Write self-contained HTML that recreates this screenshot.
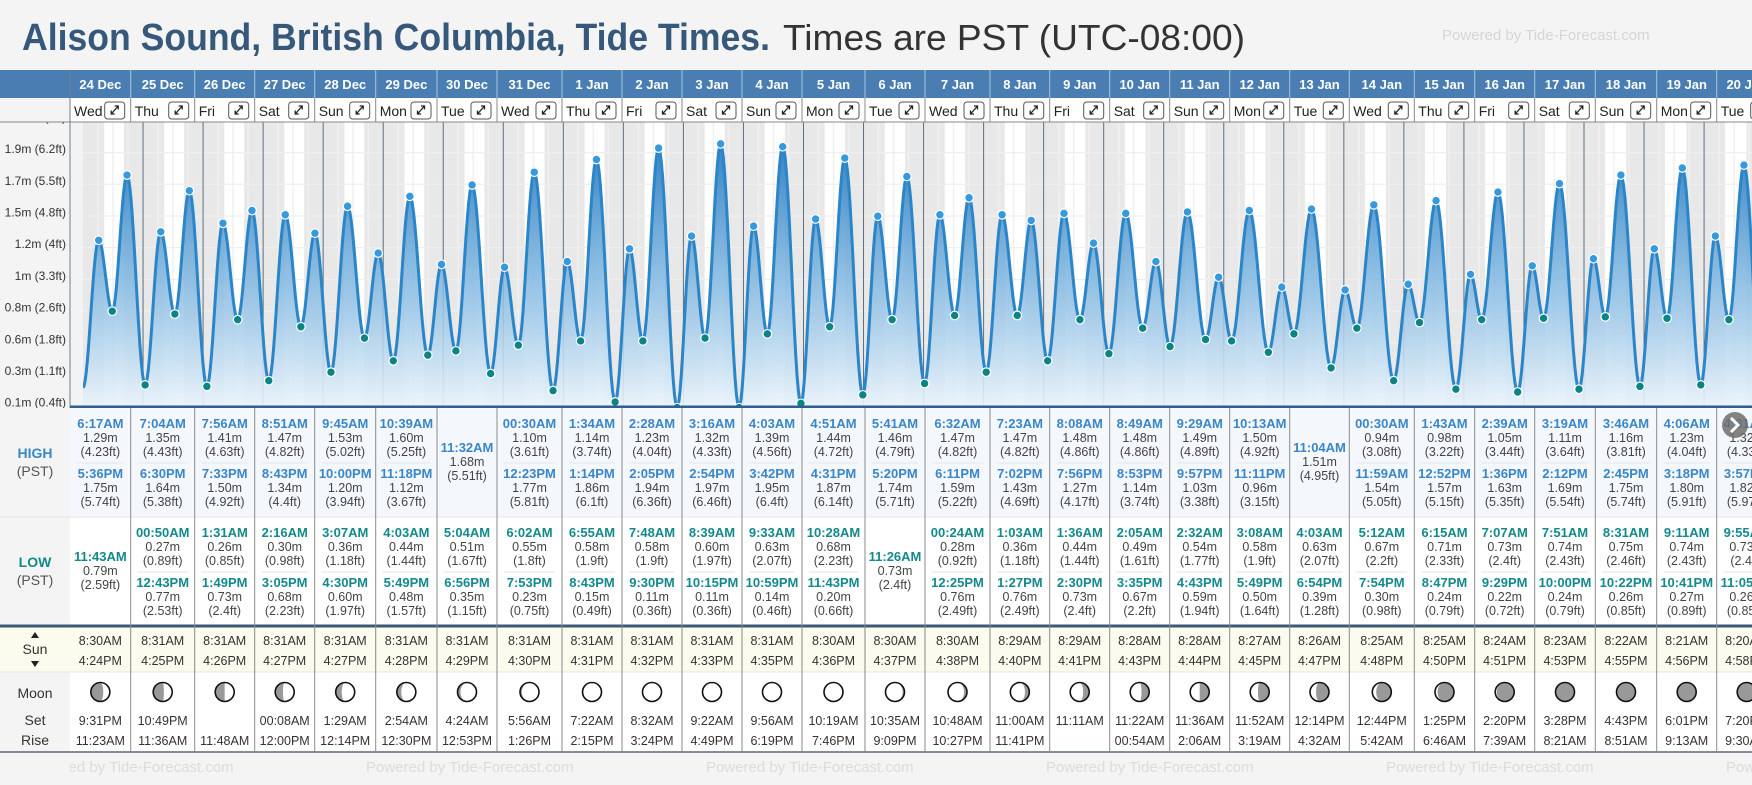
<!DOCTYPE html>
<html><head><meta charset="utf-8">
<style>
html,body{margin:0;padding:0;background:#f4f4f4;}
body{width:1752px;height:780px;overflow:hidden;font-family:"Liberation Sans",Arial,sans-serif;}
svg text{font-family:"Liberation Sans",Arial,sans-serif;}
</style></head>
<body>
<svg id="root" width="1752" height="780" viewBox="0 0 1752 780" xmlns="http://www.w3.org/2000/svg">
<defs>
<linearGradient id="fillGrad" gradientUnits="userSpaceOnUse" x1="0" y1="150" x2="0" y2="407">
<stop offset="0" stop-color="#2e7fc2" stop-opacity="0.95"/>
<stop offset="0.5" stop-color="#7fb6e0" stop-opacity="0.85"/>
<stop offset="1" stop-color="#eaf4fc" stop-opacity="0.9"/>
</linearGradient>
<clipPath id="chartClip"><rect x="83" y="122" width="1669" height="285"/></clipPath>
<clipPath id="axisClip"><rect x="0" y="122" width="70" height="286"/></clipPath>
</defs>
<text x="22" y="50" font-size="38" font-weight="bold" fill="#36597b" textLength="748" lengthAdjust="spacingAndGlyphs">Alison Sound, British Columbia, Tide Times.</text>
<text x="783" y="50" font-size="36" fill="#333" textLength="462" lengthAdjust="spacingAndGlyphs">Times are PST (UTC-08:00)</text>
<text x="1442" y="40" font-size="15" fill="#d6d6d6">Powered by Tide-Forecast.com</text>
<g id="chart"></g>
</svg>
<script>
// ---- data ----
const dayLabels=['24 Dec','25 Dec','26 Dec','27 Dec','28 Dec','29 Dec','30 Dec','31 Dec','1 Jan','2 Jan','3 Jan','4 Jan','5 Jan','6 Jan','7 Jan','8 Jan','9 Jan','10 Jan','11 Jan','12 Jan','13 Jan','14 Jan','15 Jan','16 Jan','17 Jan','18 Jan','19 Jan','20 Jan'];
const weekdays=['Wed','Thu','Fri','Sat','Sun','Mon','Tue','Wed','Thu','Fri','Sat','Sun','Mon','Tue','Wed','Thu','Fri','Sat','Sun','Mon','Tue','Wed','Thu','Fri','Sat','Sun','Mon','Tue'];
const tideDay=[-1,0,0,0,1,1,1,1,2,2,2,2,3,3,3,3,4,4,4,4,5,5,5,5,6,6,6,7,7,7,7,8,8,8,8,9,9,9,9,10,10,10,10,11,11,11,11,12,12,12,12,13,13,13,14,14,14,14,15,15,15,15,16,16,16,16,17,17,17,17,18,18,18,18,19,19,19,19,20,20,20,21,21,21,21,22,22,22,22,23,23,23,23,24,24,24,24,25,25,25,25,26,26,26,26,27,27,27,27];
const tideTime=['11:58PM','6:17AM','11:43AM','5:36PM','00:50AM','7:04AM','12:43PM','6:30PM','1:31AM','7:56AM','1:49PM','7:33PM','2:16AM','8:51AM','3:05PM','8:43PM','3:07AM','9:45AM','4:30PM','10:00PM','4:03AM','10:39AM','5:49PM','11:18PM','5:04AM','11:32AM','6:56PM','00:30AM','6:02AM','12:23PM','7:53PM','1:34AM','6:55AM','1:14PM','8:43PM','2:28AM','7:48AM','2:05PM','9:30PM','3:16AM','8:39AM','2:54PM','10:15PM','4:03AM','9:33AM','3:42PM','10:59PM','4:51AM','10:28AM','4:31PM','11:43PM','5:41AM','11:26AM','5:20PM','00:24AM','6:32AM','12:25PM','6:11PM','1:03AM','7:23AM','1:27PM','7:02PM','1:36AM','8:08AM','2:30PM','7:56PM','2:05AM','8:49AM','3:35PM','8:53PM','2:32AM','9:29AM','4:43PM','9:57PM','3:08AM','10:13AM','5:49PM','11:11PM','4:03AM','11:04AM','6:54PM','00:30AM','5:12AM','11:59AM','7:54PM','1:43AM','6:15AM','12:52PM','8:47PM','2:39AM','7:07AM','1:36PM','9:29PM','3:19AM','7:51AM','2:12PM','10:00PM','3:46AM','8:31AM','2:45PM','10:22PM','4:06AM','9:11AM','3:18PM','10:41PM','4:31AM','9:55AM','3:57PM','11:05PM'];
const tideHeight=[0.25,1.29,0.79,1.75,0.27,1.35,0.77,1.64,0.26,1.41,0.73,1.50,0.30,1.47,0.68,1.34,0.36,1.53,0.60,1.20,0.44,1.60,0.48,1.12,0.51,1.68,0.35,1.10,0.55,1.77,0.23,1.14,0.58,1.86,0.15,1.23,0.58,1.94,0.11,1.32,0.60,1.97,0.11,1.39,0.63,1.95,0.14,1.44,0.68,1.87,0.20,1.46,0.73,1.74,0.28,1.47,0.76,1.59,0.36,1.47,0.76,1.43,0.44,1.48,0.73,1.27,0.49,1.48,0.67,1.14,0.54,1.49,0.59,1.03,0.58,1.50,0.50,0.96,0.63,1.51,0.39,0.94,0.67,1.54,0.30,0.98,0.71,1.57,0.24,1.05,0.73,1.63,0.22,1.11,0.74,1.69,0.24,1.16,0.75,1.75,0.26,1.23,0.74,1.80,0.27,1.32,0.73,1.82,0.26];
const tideType=['L','H','L','H','L','H','L','H','L','H','L','H','L','H','L','H','L','H','L','H','L','H','L','H','L','H','L','H','L','H','L','H','L','H','L','H','L','H','L','H','L','H','L','H','L','H','L','H','L','H','L','H','L','H','L','H','L','H','L','H','L','H','L','H','L','H','L','H','L','H','L','H','L','H','L','H','L','H','L','H','L','H','L','H','L','H','L','H','L','H','L','H','L','H','L','H','L','H','L','H','L','H','L','H','L','H','L','H','L'];
const sunrise=['8:30AM','8:31AM','8:31AM','8:31AM','8:31AM','8:31AM','8:31AM','8:31AM','8:31AM','8:31AM','8:31AM','8:31AM','8:30AM','8:30AM','8:30AM','8:29AM','8:29AM','8:28AM','8:28AM','8:27AM','8:26AM','8:25AM','8:25AM','8:24AM','8:23AM','8:22AM','8:21AM','8:20AM'];
const sunset=['4:24PM','4:25PM','4:26PM','4:27PM','4:27PM','4:28PM','4:29PM','4:30PM','4:31PM','4:32PM','4:33PM','4:35PM','4:36PM','4:37PM','4:38PM','4:40PM','4:41PM','4:43PM','4:44PM','4:45PM','4:47PM','4:48PM','4:50PM','4:51PM','4:53PM','4:55PM','4:56PM','4:58PM'];
const moonSet=['9:31PM','10:49PM','','00:08AM','1:29AM','2:54AM','4:24AM','5:56AM','7:22AM','8:32AM','9:22AM','9:56AM','10:19AM','10:35AM','10:48AM','11:00AM','11:11AM','11:22AM','11:36AM','11:52AM','12:14PM','12:44PM','1:25PM','2:20PM','3:28PM','4:43PM','6:01PM','7:20PM'];
const moonRise=['11:23AM','11:36AM','11:48AM','12:00PM','12:14PM','12:30PM','12:53PM','1:26PM','2:15PM','3:24PM','4:49PM','6:19PM','7:46PM','9:09PM','10:27PM','11:41PM','','00:54AM','2:06AM','3:19AM','4:32AM','5:42AM','6:46AM','7:39AM','8:21AM','8:51AM','9:13AM','9:30AM'];
const moonPhase=[0.20,0.23,0.25,0.28,0.31,0.34,0.37,0.40,0.43,0.47,0.50,0.53,0.57,0.60,0.63,0.66,0.69,0.72,0.75,0.78,0.81,0.85,0.88,0.91,0.95,0.99,0.03,0.06];
const yTickValues=[0.12,0.344,0.567,0.79,1.014,1.238,1.461,1.685,1.908,2.13];
const yTickLabels=['0.1m (0.4ft)','0.3m (1.1ft)','0.6m (1.8ft)','0.8m (2.6ft)','1m (3.3ft)','1.2m (4ft)','1.5m (4.8ft)','1.7m (5.5ft)','1.9m (6.2ft)','2.1m (7ft)'];

// ---- layout (not data) ----
const colW=[60.7,64,60,60,61,61.3,60,65,60,60,60,60,63,60,65,59.7,60,60,60,60,59.6,65,60.4,60,60.6,61.4,60,60];
const colX=[];let acc=70;for(const w of colW){colX.push(acc);acc+=w;}
const CH_X0=83, CH_DAY=60.04, CH_TOP=122, CH_BOT=407;
function xScale(day,hours){return CH_X0+CH_DAY*(day+hours/24);}
function yScale(m){return 423.2-141.8*m;}
function parseT(s){const m=s.match(/(\d+):(\d+)(AM|PM)/);let h=parseInt(m[1],10)%12;if(m[3]==='PM')h+=12;return h+parseInt(m[2],10)/60;}
const NS='http://www.w3.org/2000/svg';
const G=document.getElementById('chart');
function mk(tag,attrs,parent,txt){const e=document.createElementNS(NS,tag);for(const k in attrs)e.setAttribute(k,attrs[k]);if(txt!==undefined)e.textContent=txt;(parent||G).appendChild(e);return e;}
function fmtFt(m){return String(parseFloat((m*3.28084).toFixed(2)));}
function fmtM(m){return m.toFixed(2)+'m';}

// header band
let el=mk('rect',{x:0,y:70,width:1752,height:28,fill:'#4a7eb2'});


el=mk('rect',{x:0,y:98,width:70,height:24,fill:'#f4f4f4'});


el=mk('rect',{x:70,y:98,width:1682,height:24,fill:'#fff'});



// chart background bands
el=mk('rect',{x:70,y:CH_TOP,width:1682,height:CH_BOT-CH_TOP,fill:'#f3f3f3'});


for(let d=0;d<28;d++){
  const x0=xScale(d,0),xr=xScale(d,parseT(sunrise[d])),xs=xScale(d,parseT(sunset[d])),x1=xScale(d+1,0);
  el=mk('rect',{x:x0,y:CH_TOP,width:xr-x0,height:CH_BOT-CH_TOP,fill:'#e8e8e8'});
  
  
  el=mk('rect',{x:xr,y:CH_TOP,width:xs-xr,height:CH_BOT-CH_TOP,fill:'#ffffff'});
  
  
  el=mk('rect',{x:xs,y:CH_TOP,width:x1-xs,height:CH_BOT-CH_TOP,fill:'#e8e8e8'});
  
  
  for(const hh of [6,12,18]){
    el=mk('line',{x1:xScale(d,hh),x2:xScale(d,hh),y1:CH_TOP,y2:CH_BOT,stroke:'#f0f0f0','stroke-width':1.5});
    
    
  }
}
// horizontal gridlines
yTickValues.forEach(v=>{
  el=mk('line',{x1:70,x2:1752,y1:yScale(v),y2:yScale(v),stroke:'#efefef','stroke-width':1.2,'clip-path':'url(#chartClip)'});
  
  
});
// midnight lines
for(let d=1;d<28;d++){
  el=mk('line',{x1:xScale(d,0),x2:xScale(d,0),y1:CH_TOP,y2:CH_BOT,stroke:'#5d6f80','stroke-width':1});
  
  
}
// tide curve
const px=[],py=[];
for(let i=0;i<tideTime.length;i++){px.push(xScale(tideDay[i],parseT(tideTime[i])));py.push(yScale(tideHeight[i]));}
let d='M'+px[0]+','+py[0];
for(let i=0;i<px.length-1;i++){
  for(let s=1;s<=14;s++){const t=s/14;const f=(1-Math.cos(Math.PI*t))/2;d+=' L'+(px[i]+(px[i+1]-px[i])*t).toFixed(2)+','+(py[i]+(py[i+1]-py[i])*f).toFixed(2);}
}
el=mk('path',{d:d+' L'+px[px.length-1]+','+CH_BOT+' L'+px[0]+','+CH_BOT+' Z',fill:'url(#fillGrad)','clip-path':'url(#chartClip)'});


el=mk('path',{d:d,fill:'none',stroke:'#2b85c9','stroke-width':3,'stroke-linejoin':'round','clip-path':'url(#chartClip)'});


for(let i=0;i<px.length;i++){
  if(tideDay[i]<0)continue;
  el=mk('circle',{cx:px[i],cy:py[i],r:4.3,fill:tideType[i]==='H'?'#3499de':'#0b8486',stroke:'#fff','stroke-width':1.2,'clip-path':'url(#chartClip)'});
  
  
}
// y axis
el=mk('rect',{x:0,y:CH_TOP,width:70,height:CH_BOT-CH_TOP+1,fill:'#f4f4f4'});


yTickValues.forEach((v,i)=>{
  el=mk('text',{x:66,y:yScale(v)+0.5,'font-size':12,fill:'#333','text-anchor':'end','clip-path':'url(#axisClip)'},G,yTickLabels[i]);
  
  
});
el=mk('line',{x1:70,x2:70,y1:70,y2:752,stroke:'#6f7f8e','stroke-width':1});



// header columns
for(let i=0;i<28;i++){
  const x=colX[i],w=colW[i];
  el=mk('text',{x:x+w/2,y:89,'font-size':13,'font-weight':'bold',fill:'#fff','text-anchor':'middle'},G,dayLabels[i]);
  
  
  el=mk('text',{x:x+4,y:116,'font-size':14,fill:'#222'},G,weekdays[i]);
  
  
  const bx=x+w-26;
  const g=mk('g',{});
  
  
  mk('rect',{x:bx,y:102,width:20,height:17,rx:3,fill:'#fff',stroke:'#555','stroke-width':1},g);
  mk('path',{d:`M${bx+6.5} ${114} L${bx+13.5} ${106} M${bx+10} ${106} L${bx+13.5} ${106} L${bx+13.5} ${109.5} M${bx+6.5} ${110.5} L${bx+6.5} ${114} L${bx+10} ${114}`,fill:'none',stroke:'#222','stroke-width':1.3},g);
  if(i>0){
    el=mk('line',{x1:x,x2:x,y1:70,y2:98,stroke:'#a9c4df','stroke-width':1});
    
    
    el=mk('line',{x1:x,x2:x,y1:98,y2:122,stroke:'#888','stroke-width':1});
    
    
  }
}
el=mk('line',{x1:0,x2:1752,y1:122,y2:122,stroke:'#888','stroke-width':1});


el=mk('line',{x1:70,x2:1752,y1:407,y2:407,stroke:'#2f5f8a','stroke-width':3});



// tables backgrounds
const bgs=[[408,109,'#f4f8fc','high-table-row'],[517,109,'#ffffff','low-table-row'],[627,45,'#fbfbee','sun-row'],[672,80,'#ffffff','moon-row']];
bgs.forEach(b=>{
  el=mk('rect',{x:70,y:b[0],width:1682,height:b[1],fill:b[2]});
  
  
});
el=mk('rect',{x:0,y:408,width:70,height:344,fill:'#f4f4f4'});


el=mk('rect',{x:0,y:627,width:70,height:45,fill:'#fbfbee'});


const lines=[[517,'#e6e6e6',1],[626,'#3d5a75',3],[672,'#e6e6e6',1],[752,'#5a6b7a',1.5]];
lines.forEach(l=>{
  el=mk('line',{x1:0,x2:1752,y1:l[0],y2:l[0],stroke:l[1],'stroke-width':l[2]});
  
  
});
// left labels
const lbls=[[458,'HIGH',14,'bold','#3a86c8'],[476,'(PST)',14,'normal','#555'],[567,'LOW',14,'bold','#14898c'],[585,'(PST)',14,'normal','#555'],[654,'Sun',14,'normal','#333'],[698,'Moon',14,'normal','#333'],[725,'Set',14,'normal','#333'],[745,'Rise',14,'normal','#333']];
lbls.forEach(l=>{
  el=mk('text',{x:35,y:l[0],'font-size':l[2],'font-weight':l[3],fill:l[4],'text-anchor':'middle'},G,l[1]);
  
  
});
el=mk('path',{d:'M35 632 L39 638 L31 638 Z M31 661 L39 661 L35 667 Z',fill:'#222'});



function cellText(x,y,size,weight,color,txt,name){
  const e=mk('text',{x:x,y:y,'font-size':size,'font-weight':weight,fill:color,'text-anchor':'middle'},G,txt);
  
  
}
for(let c=0;c<28;c++){
  const x=colX[c],w=colW[c],cx=x+w/2;
  const hi=[],lo=[];
  for(let i=0;i<tideTime.length;i++){if(tideDay[i]===c){(tideType[i]==='H'?hi:lo).push(i);}}
  [[hi,428,452,'#3a86c8','high'],[lo,537,561,'#14898c','low']].forEach(([arr,y2,y1,col,kind])=>{
    const ys=arr.length===1?[y1]:[y2,y2+50];
    arr.forEach((i,k)=>{
      const y=ys[k];
      cellText(cx,y,13,'bold',col,tideTime[i],kind+'-tide-time');
      cellText(cx,y+14,12.5,'normal','#444',fmtM(tideHeight[i]),kind+'-tide-height-m');
      cellText(cx,y+28,12.5,'normal','#444','('+fmtFt(tideHeight[i])+'ft)',kind+'-tide-height-ft');
    });
    if(arr.length===2){
      el=mk('line',{x1:x+7,x2:x+w-7,y1:y2+35,y2:y2+35,stroke:'#e2e7ec','stroke-width':1});
      
      
    }
  });
  cellText(cx,645,12.5,'normal','#333',sunrise[c],'sunrise-time');
  cellText(cx,665,12.5,'normal','#333',sunset[c],'sunset-time');
  cellText(cx,725,12.5,'normal','#333',moonSet[c],'moonset-time');
  cellText(cx,745,12.5,'normal','#333',moonRise[c],'moonrise-time');
  // moon icon
  const my=692,r=9.5;
  const mg=mk('g',{});
  
  
  mk('circle',{cx:cx,cy:my,r:r,fill:'#999'},mg);
  const p=((moonPhase[c]%1)+1)%1;
  const k=Math.cos(2*Math.PI*p)*r;
  if(p<0.5){ // waxing, right side lit
    mk('path',{d:`M${cx} ${my-r} A${r} ${r} 0 0 1 ${cx} ${my+r} A${Math.abs(k)} ${r} 0 0 ${k>0?0:1} ${cx} ${my-r} Z`,fill:'#fff'},mg);
  }else{ // waning, left side lit
    mk('path',{d:`M${cx} ${my-r} A${r} ${r} 0 0 0 ${cx} ${my+r} A${Math.abs(k)} ${r} 0 0 ${k>0?1:0} ${cx} ${my-r} Z`,fill:'#fff'},mg);
  }
  mk('circle',{cx:cx,cy:my,r:r,fill:'none',stroke:'#111','stroke-width':1.6},mg);
  if(c>0){
    el=mk('line',{x1:x,x2:x,y1:408,y2:752,stroke:'#8a8a8a','stroke-width':1});
    
    
  }
}
// footer watermarks
for(let i=0;i<6;i++){
  el=mk('text',{x:26+340*i,y:772,'font-size':15,fill:'#dcdcdc'},G,'Powered by Tide-Forecast.com');
  
  
}
el=mk('rect',{x:0,y:753,width:70,height:27,fill:'#f4f4f4'});


// next button
const nb=mk('g',{});


mk('circle',{cx:1735,cy:425,r:13,fill:'#6f6f6f','fill-opacity':0.85},nb);
mk('path',{d:'M1731 418 L1738 425 L1731 432',fill:'none',stroke:'#fff','stroke-width':3},nb);
</script>
</body></html>
